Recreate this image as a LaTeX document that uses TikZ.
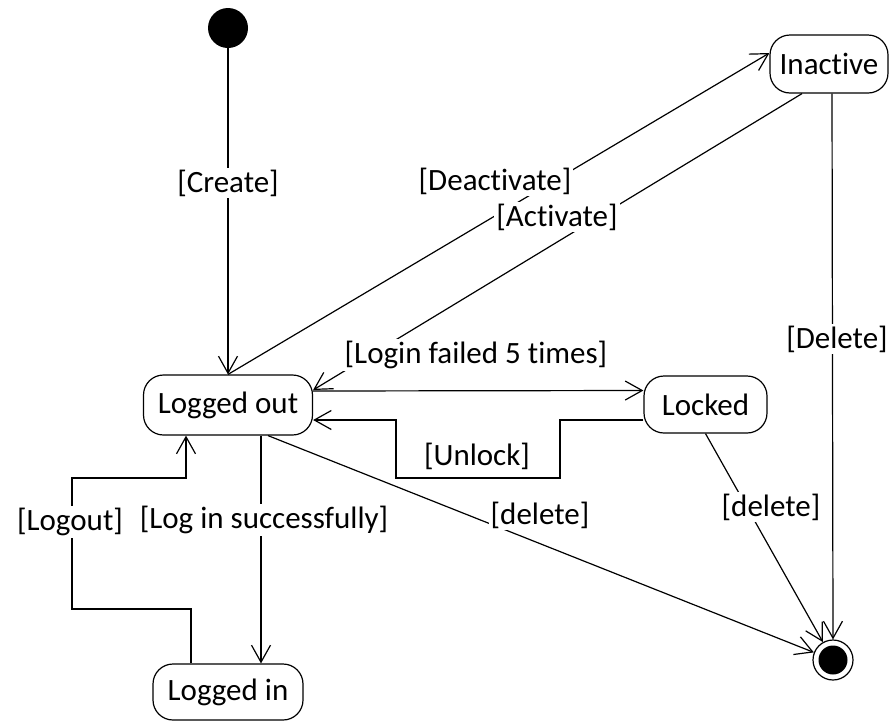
\documentclass[tikz,border=0pt]{standalone}
\usepackage{fontspec}
\setmainfont[Ligatures=NoCommon]{Carlito}
\usetikzlibrary{arrows.meta}
\begin{document}
\begin{tikzpicture}[x=1pt,y=-1pt,
  every node/.style={font=\fontsize{31}{37}\selectfont},
  state/.style={draw,rounded corners=20pt,line width=1.2pt,inner sep=0pt,align=center},
  trans/.style={line width=1.2pt,-{Straight Barb[length=17pt,width=19pt]}},
  guard/.style={fill=white,inner sep=2pt}]
\useasboundingbox (0,0) rectangle (891,721);

% states
\fill (228,28) circle (20);
\coordinate (init) at (228,48);
\node[state,minimum width=169pt,minimum height=60pt] (lout) at (228,405) {Logged out};
\node[state,minimum width=123pt,minimum height=57pt] (lck) at (705.5,404.5) {Locked};
\node[state,minimum width=118pt,minimum height=58pt] (ina) at (829,64) {Inactive};
\node[state,minimum width=150pt,minimum height=56pt] (lin) at (228,692) {Logged in};
\node[circle,draw,line width=1.2pt,minimum size=40pt,inner sep=0pt] (fin) at (833,660) {};
\fill (fin.center) circle (14.5);

% transitions
\draw[trans] (init) -- (lout.north);
\draw[trans] (lout.north) -- ([yshift=11pt]ina.west);
\draw[trans] ([xshift=-27pt]ina.south) -- ([yshift=15pt]lout.east);
\draw[trans] ([yshift=14pt]lout.east) -- ([yshift=14pt]lck.west);
\draw[trans] ([yshift=-15.5pt]lck.west) -- (560,420) -- (560,478) -- (396,478) -- (396,420) -- ([yshift=-15pt]lout.east);
\draw[trans] ([xshift=3pt]ina.south) -- (fin.north);
\draw[trans] (lck.south) -- (fin);
\draw[trans] ([xshift=40pt]lout.south) -- (fin);
\draw[trans] ([xshift=33pt]lout.south) -- ([xshift=33pt]lin.north);
\draw[trans] ([xshift=-37pt]lin.north) -- (191,609) -- (72,609) -- (72,478) -- (186,478) -- ([xshift=-42pt]lout.south);

% guards
\node[guard] (gcreate) at (228,183) {[Create]};
\node[guard] (gdeact) at (495,181) {[Deactivate]};
\node[guard] (gact) at (557,217) {[Activate]};
\node[guard] (gfail) at (476,355) {[Login failed 5 times]};
\node[guard] (gunlock) at (477,456) {[Unlock]};
\node[guard] (gDelete) at (837,339) {[Delete]};
\node[guard] (gdel1) at (771,507) {[delete]};
\node[guard] (gdel2) at (540,515) {[delete]};
\node[guard] (glogin) at (264,520) {[Log in successfully]};
\node[guard] (glogout) at (70,522) {[Logout]};
\end{tikzpicture}
\end{document}
